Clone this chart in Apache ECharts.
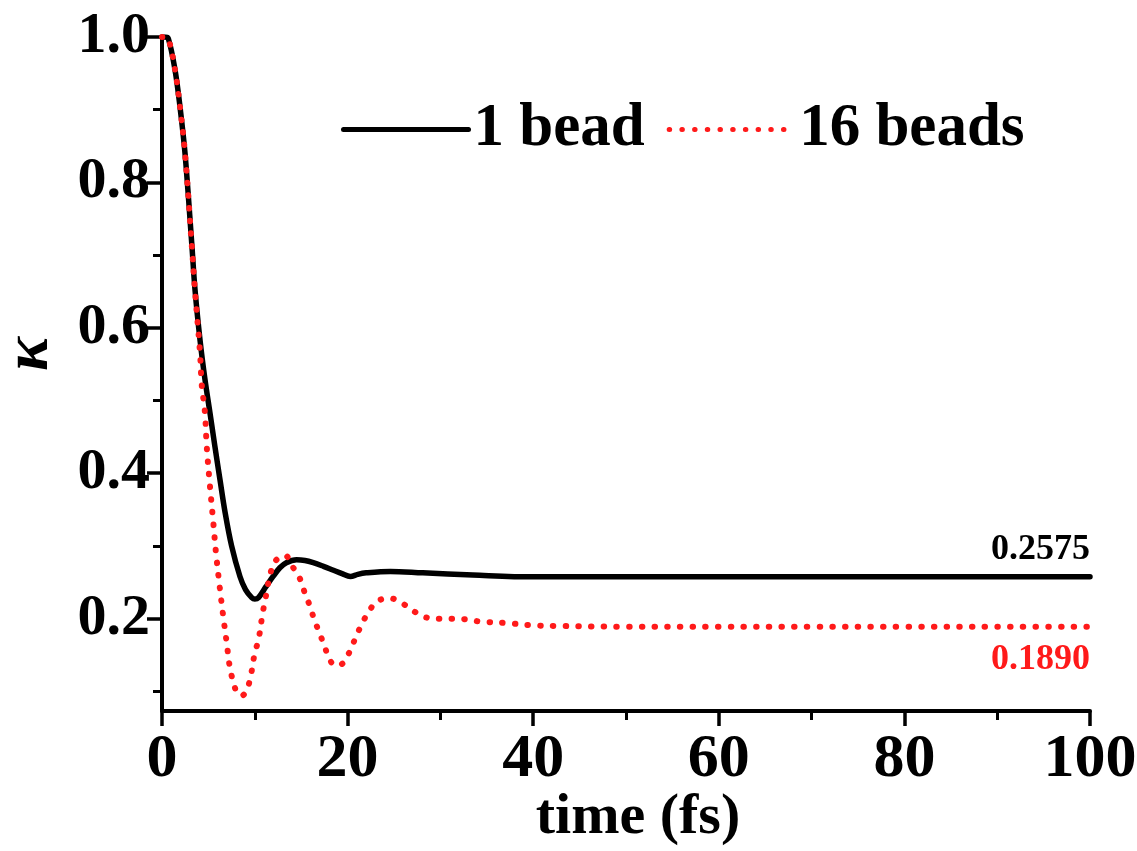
<!DOCTYPE html>
<html>
<head>
<meta charset="utf-8">
<script src="https://cdn.jsdelivr.net/npm/echarts@6/dist/echarts.min.js"></script>
<style>
html,body{margin:0;padding:0;background:#fff;}
#main{width:1137px;height:851px;}
</style>
</head>
<body>
<div id="main"></div>
<script>
// ---- data ----
const seriesNames = ['1 bead', '16 beads'];
const oneBeadTime = [0, 0.3, 0.68, 1.4, 1.94, 2.48, 3.2, 3.56, 4.1, 4.63, 5.17, 5.7, 6.25, 6.8, 7.5, 8.4, 9.0, 9.67, 10.0, 10.4, 11.2, 11.97, 12.7, 13.4, 14.5, 15.4, 16.3, 17.4, 18.4, 19.4, 20.3, 21.1, 22, 24.6, 28.1, 33.5, 40, 50, 60, 70, 80, 90, 100];
const oneBeadKappa = [1.0, 1.0, 0.998, 0.955, 0.904, 0.84, 0.717, 0.652, 0.583, 0.529, 0.483, 0.437, 0.391, 0.346, 0.3, 0.258, 0.24, 0.229, 0.227, 0.229, 0.244, 0.258, 0.27, 0.277, 0.281, 0.28, 0.277, 0.272, 0.267, 0.262, 0.258, 0.261, 0.263, 0.265, 0.263, 0.26, 0.2575, 0.2575, 0.2575, 0.2575, 0.2575, 0.2575, 0.2575];
const sixteenBeadTime = [0, 0.3, 0.68, 1.4, 1.94, 2.48, 3.2, 3.56, 4.1, 4.28, 4.63, 4.82, 5.17, 5.53, 5.82, 6.25, 6.6, 6.97, 7.3, 7.7, 8.1, 8.6, 9.05, 9.5, 10.0, 10.4, 10.85, 11.1, 11.64, 12.2, 13.25, 14.15, 14.9, 15.4, 15.95, 16.4, 16.95, 17.46, 18.0, 18.6, 19.3, 20.2, 20.8, 21.4, 22.2, 23.2, 24.6, 25.9, 27.3, 28.7, 30.1, 31.5, 32.8, 34.3, 37.1, 39.7, 42.5, 50, 60, 70, 80, 90, 100];
const sixteenBeadKappa = [1.0, 1.0, 0.998, 0.955, 0.904, 0.84, 0.715, 0.65, 0.565, 0.522, 0.483, 0.437, 0.382, 0.332, 0.29, 0.24, 0.203, 0.167, 0.134, 0.112, 0.098, 0.094, 0.1, 0.117, 0.153, 0.171, 0.208, 0.224, 0.26, 0.279, 0.287, 0.27, 0.254, 0.235, 0.217, 0.199, 0.181, 0.164, 0.146, 0.136, 0.137, 0.154, 0.172, 0.189, 0.208, 0.224, 0.228, 0.221, 0.209, 0.201, 0.2, 0.2, 0.199, 0.196, 0.194, 0.191, 0.19, 0.189, 0.189, 0.189, 0.189, 0.189, 0.189];
const finalValues = [0.2575, 0.1890];
const xTicks = [0, 20, 40, 60, 80, 100];
const yLabelTicks = [0.2, 0.4, 0.6, 0.8, 1.0];
const yMinorTicks = [0.1, 0.3, 0.5, 0.7, 0.9];

// ---- build ----
const FONT = "'Liberation Serif', 'Times New Roman', serif";
const colors = ['#000000', '#ff1a1a'];
function pairs(xs, ys) { return xs.map((x, i) => [x, ys[i]]); }

const chart = echarts.init(document.getElementById('main'), null, {renderer: 'canvas'});
const axisLineStyle = {color: '#000', width: 4};
chart.setOption({
  backgroundColor: '#fff',
  animation: false,
  grid: {left: 162, right: 47, top: 37, bottom: 140, containLabel: false, outerBoundsMode: 'none'},
  legend: {
    left: 336, top: 94,
    itemWidth: 125, itemHeight: 14, itemGap: 22,
    data: seriesNames,
    itemStyle: {opacity: 0},
    lineStyle: {width: 5},
    textStyle: {fontFamily: FONT, fontWeight: 'bold', fontSize: 61, color: '#000'}
  },
  xAxis: {
    type: 'value', min: 0, max: 100, interval: 20,
    name: 'time (fs)', nameLocation: 'middle', nameGap: 78, nameMoveOverlap: false,
    nameTextStyle: {fontFamily: FONT, fontWeight: 'bold', fontSize: 58, color: '#000', padding: [0, 0, 0, 24]},
    axisLine: {show: true, lineStyle: axisLineStyle},
    axisTick: {show: true, inside: false, length: 15, lineStyle: {color: '#000', width: 3.5}, customValues: xTicks},
    minorTick: {show: true, splitNumber: 2, length: 9, lineStyle: {color: '#000', width: 3}},
    axisLabel: {fontFamily: FONT, fontWeight: 'bold', fontSize: 62, color: '#000', margin: 18, customValues: xTicks},
    splitLine: {show: false}
  },
  yAxis: [{
    type: 'value', min: 0.073, max: 1.0,
    name: 'κ', nameLocation: 'middle', nameGap: 100, nameRotate: 90,
    nameTextStyle: {fontFamily: FONT, fontStyle: 'italic', fontWeight: 'bold', fontSize: 64, color: '#000', padding: [0, 0, 0, 40]},
    axisLine: {show: true, lineStyle: axisLineStyle},
    axisTick: {show: true, inside: false, length: 15, lineStyle: {color: '#000', width: 3.5}, customValues: yLabelTicks},
    axisLabel: {fontFamily: FONT, fontWeight: 'bold', fontSize: 58, color: '#000', margin: 12, customValues: yLabelTicks, formatter: v => v.toFixed(1)},
    splitLine: {show: false}
  }, {
    type: 'value', min: 0.073, max: 1.0, position: 'left',
    axisLine: {show: false},
    axisTick: {show: true, inside: false, length: 9, lineStyle: {color: '#000', width: 3}, customValues: yMinorTicks},
    axisLabel: {show: false},
    splitLine: {show: false}
  }],
  series: [{
    name: seriesNames[0], type: 'line', data: pairs(oneBeadTime, oneBeadKappa),
    smooth: 0.35, showSymbol: false, symbol: 'none', z: 3,
    lineStyle: {color: colors[0], width: 5.5, cap: 'round', join: 'round'},
    itemStyle: {color: colors[0]},
    markPoint: {
      symbol: 'circle', symbolSize: 0, silent: true,
      data: [{coord: [100, finalValues[0]], value: finalValues[0]}],
      label: {show: true, position: 'inside', align: 'right', verticalAlign: 'bottom', offset: [0, -9],
        formatter: p => p.value.toFixed(4), fontFamily: FONT, fontWeight: 'bold', fontSize: 36, color: colors[0]}
    }
  }, {
    name: seriesNames[1], type: 'line', data: pairs(sixteenBeadTime, sixteenBeadKappa),
    smooth: 0.35, showSymbol: false, symbol: 'none', z: 4,
    lineStyle: {color: colors[1], width: 6, type: [0.5, 12.2], cap: 'round'},
    itemStyle: {color: colors[1]},
    markPoint: {
      symbol: 'circle', symbolSize: 0, silent: true,
      data: [{coord: [100, finalValues[1]], value: finalValues[1]}],
      label: {show: true, position: 'inside', align: 'right', verticalAlign: 'top', offset: [0, 15],
        formatter: p => p.value.toFixed(4), fontFamily: FONT, fontWeight: 'bold', fontSize: 36, color: colors[1]}
    }
  }]
});
</script>
</body>
</html>
